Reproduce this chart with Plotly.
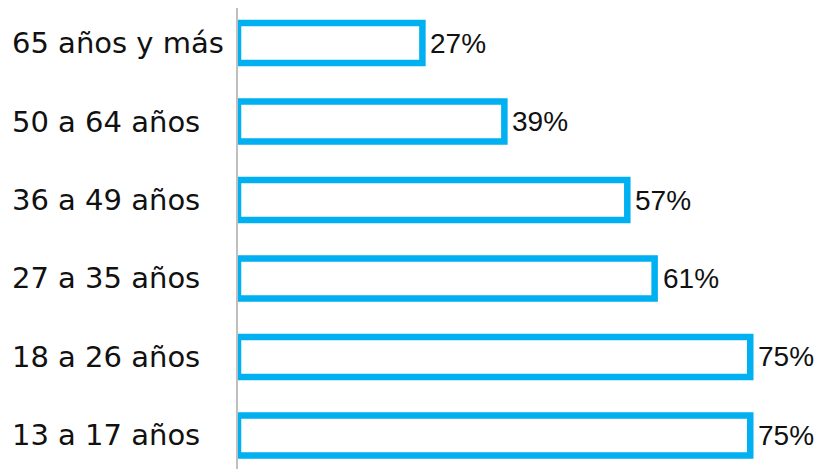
import plotly.graph_objects as go

# --- Data ---
age_groups = ["65 años y más", "50 a 64 años", "36 a 49 años",
              "27 a 35 años", "18 a 26 años", "13 a 17 años"]
shares = [27, 39, 57, 61, 75, 75]
share_labels = [f"{v}%" for v in shares]

BLUE = "#00B0F0"
W, H = 833, 469
PAGE_OFFSET = 8          # default body margin of the html page
L_MARGIN = 238 - PAGE_OFFSET
PLOT_W = W - L_MARGIN    # plot area width in px

fig = go.Figure()
fig.add_trace(go.Bar(
    x=shares, y=age_groups, orientation="h",
    marker=dict(color="white", line=dict(color=BLUE, width=6.5)),
    hoverinfo="x+y", showlegend=False,
))

# category labels, left aligned in the margin
for grp in age_groups:
    fig.add_annotation(
        x=(2 - L_MARGIN) / PLOT_W, xref="paper", xanchor="left",
        y=grp, yref="y", yanchor="middle", text=grp, showarrow=False,
        font=dict(family="DejaVu Sans, Verdana", size=29, color="#111"),
    )

# value labels just past the bar ends
for grp, v, lab in zip(age_groups, shares, share_labels):
    fig.add_annotation(
        x=v, y=grp, xref="x", yref="y", xanchor="left", yanchor="middle",
        xshift=6, text=lab, showarrow=False,
        font=dict(family="Liberation Sans, Arial", size=28, color="#111"),
    )

fig.update_layout(
    width=W, height=H,
    margin=dict(l=L_MARGIN, r=0, t=0, b=0),
    plot_bgcolor="white", paper_bgcolor="white",
    bargap=0.49,
    xaxis=dict(range=[0, PLOT_W / 6.83], showgrid=False, zeroline=False,
               showticklabels=False, showline=False, automargin=False),
    yaxis=dict(type="category", range=[5.529, -0.446], showgrid=False,
               zeroline=False, showline=True, linecolor="#BFBFBF", linewidth=2,
               ticks="", showticklabels=False, automargin=False),
)

fig.write_html("out.html")
